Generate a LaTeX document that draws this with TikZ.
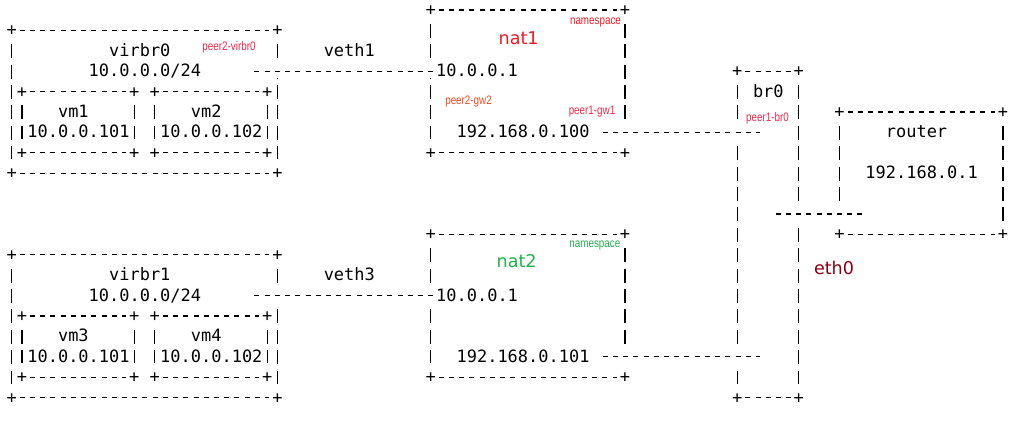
\documentclass[tikz,border=0pt]{standalone}
\usepackage{fontspec}
\usepackage{graphicx}
\usepackage{tikz}
\usepackage{xcolor}

\setmonofont{DejaVu Sans Mono}
\newfontfamily\labelfont{DejaVu Sans}
\newfontfamily\tagfont{Liberation Sans}

\definecolor{nsred}{HTML}{ED1C24}
\definecolor{peerred}{HTML}{F0284A}
\definecolor{peerorange}{HTML}{F24A1C}
\definecolor{nsgreen}{HTML}{22B14C}
\definecolor{ethred}{HTML}{880015}

\begin{document}
\begin{tikzpicture}[
        x=2.044mm, y=-4.08mm,
        mono/.style={font=\ttfamily\fontsize{9.66pt}{11pt}\selectfont, inner sep=0pt, text height=6.2pt, text depth=0pt, anchor=west},
        corner/.style={mono, anchor=center},
        dashes/.style={line width=0.75pt, dash pattern=on 2.844pt off 2.972pt},
        hedge/.style={dashes, shorten <=1.483pt, shorten >=1.483pt},
        vedge/.style={line width=0.75pt, dash pattern=on 7.966pt off 3.642pt, shorten <=4.527pt, shorten >=4.527pt},
        link/.style={dashes, preaction={draw=white, solid, line width=8.3pt}},
        tag/.style={font=\tagfont\fontsize{7pt}{8pt}\selectfont, inner sep=0pt},
        title/.style={font=\labelfont\fontsize{10pt}{12pt}\selectfont, inner sep=0pt}
    ]

    % One x unit is one character cell, one y unit is one text line
    \useasboundingbox (-1.145,-0.49) rectangle (99.05,20.343);

    % Box in ASCII look: plus signs at the corners, dashed edges between them
    \def\asciibox#1#2#3#4#5{
        \node[corner] (#1-nw) at ({#2},{#3}) {+};
        \node[corner] (#1-ne) at ({#4},{#3}) {+};
        \node[corner] (#1-sw) at ({#2},{#5}) {+};
        \node[corner] (#1-se) at ({#4},{#5}) {+};
        \draw[hedge] (#1-nw) -- (#1-ne);
        \draw[hedge] (#1-sw) -- (#1-se);
        \draw[vedge] (#1-nw) -- (#1-sw);
        \draw[vedge] (#1-ne) -- (#1-se);
    }

    % Bridge and router on the right
    \asciibox{br0}{71}{3}{77}{19}
    \asciibox{rt}{81}{5}{97}{11}
    \node[mono] (br0name) at (72.5,4) {br0};
    \node[mono] (rtname) at (85.5,6) {router};
    \node[mono] (rtip) at (83.5,8) {192.168.0.1};

    % The two halves: virbr with its vms, veth pair and nat namespace
    \foreach \i/\o/\va/\vb/\veth/\wan in {0/0/1/2/1/100, 1/11/3/4/3/101} {
        \asciibox{vb\i}{0}{1+\o}{26}{8+\o}
        \asciibox{vm\va}{1}{4+\o}{12}{7+\o}
        \asciibox{vm\vb}{14}{4+\o}{25}{7+\o}
        \asciibox{nat\i}{41}{\o}{60}{7+\o}

        \node[mono] (vbname\i) at (9.5,{2+\o}) {virbr\i};
        \node[mono] (vbnet\i) at (7.5,{3+\o}) {10.0.0.0/24};
        \node[mono] (vmname\va) at (4.5,{5+\o}) {vm\va};
        \node[mono] (vmip\va) at (1.5,{6+\o}) {10.0.0.101};
        \node[mono] (vmname\vb) at (17.5,{5+\o}) {vm\vb};
        \node[mono] (vmip\vb) at (14.5,{6+\o}) {10.0.0.102};
        \node[mono] (veth\veth) at (30.5,{2+\o}) {veth\veth};
        \node[mono] (natlan\i) at (41.5,{3+\o}) {10.0.0.1};
        \node[mono] (natwan\i) at (43.5,{6+\o}) {192.168.0.\wan};

        % links (they cut through the box edges they cross)
        \coordinate (vbport\i) at (23.755,{3+\o});
        \coordinate (br0in\i) at (73.245,{6+\o});
        \draw[link] (vbport\i) -- (natlan\i);
        \draw[link, shorten <=7.3pt] (natwan\i) -- (br0in\i);
    }

    % br0 to router
    \coordinate (br0out) at (74.755,10);
    \coordinate (rtport) at (83.245,10);
    \draw[link] (br0out) -- (rtport);

    % Coloured notes
    \node[tag, text=peerred] (tagvb0) at (21.26,1.838) {\scalebox{.8}[1]{peer2-virbr0}};
    \node[title, text=nsred] (titnat1) at (49.6,1.387) {nat1};
    \node[tag, text=nsred] (tagns1) at (57.12,0.613) {\scalebox{.8}[1]{namespace}};
    \node[tag, text=peerorange] (taggw2) at (44.7,4.475) {\scalebox{.8}[1]{peer2-gw2}};
    \node[tag, text=peerred] (taggw1) at (56.78,5.0) {\scalebox{.8}[1]{peer1-gw1}};
    \node[tag, text=peerred] (tagbr0) at (73.95,5.294) {\scalebox{.8}[1]{peer1-br0}};
    \node[title, text=nsgreen] (titnat2) at (49.41,12.328) {nat2};
    \node[tag, text=nsgreen] (tagns2) at (57.06,11.52) {\scalebox{.8}[1]{namespace}};
    \node[title, text=ethred] (titeth0) at (80.46,12.66) {eth0};

\end{tikzpicture}
\end{document}
